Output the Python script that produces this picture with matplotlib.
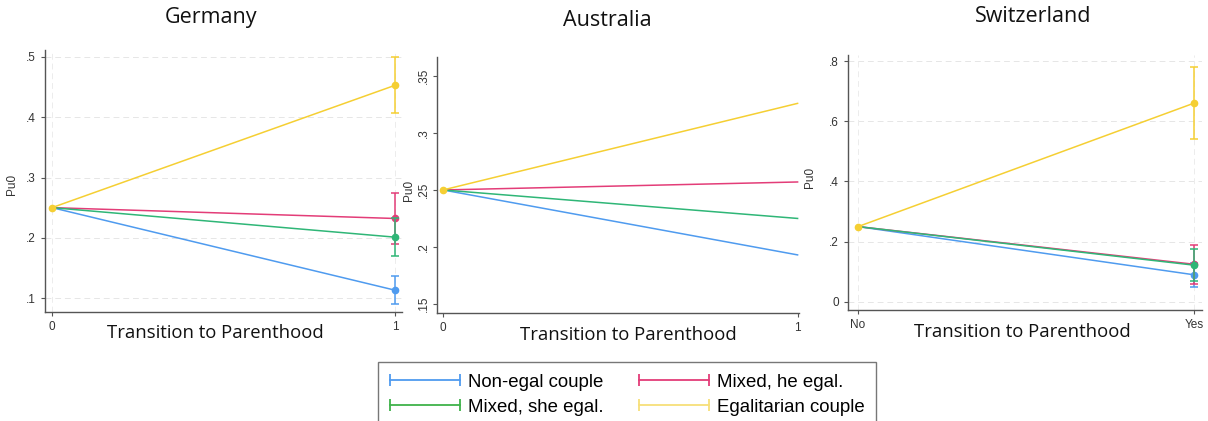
import matplotlib.pyplot as plt
from matplotlib.lines import Line2D
from matplotlib.legend_handler import HandlerLine2D

W, H = 1208, 421

groups = ['Non-egal couple', 'Mixed, he egal.', 'Mixed, she egal.', 'Egalitarian couple']
colors = ['#4f9bef', '#e33d78', '#2fb677', '#f5cf33']
legend_colors = ['#4f9bef', '#e33d78', '#3fb24a', '#f7df7a']

base = 0.25

# Germany: predicted value at transition and 95% CI
de_val = [0.113, 0.232, 0.201, 0.453]
de_lo = [0.090, 0.190, 0.170, 0.407]
de_hi = [0.136, 0.275, 0.232, 0.500]

# Australia: predicted value only
au_val = [0.193, 0.257, 0.225, 0.326]

# Switzerland
ch_val = [0.090, 0.125, 0.122, 0.660]
ch_lo = [0.050, 0.060, 0.070, 0.540]
ch_hi = [0.130, 0.190, 0.175, 0.780]

plt.rcParams['font.family'] = ['Liberation Sans', 'DejaVu Sans']
fig = plt.figure(figsize=(W / 100, H / 100), dpi=100)


def px_axes(l, r, t, b):
    return fig.add_axes([l / W, 1 - b / H, (r - l) / W, (b - t) / H])


def style(ax):
    for s in ['top', 'right']:
        ax.spines[s].set_visible(False)
    for s in ['left', 'bottom']:
        ax.spines[s].set_color('#555555')
        ax.spines[s].set_linewidth(1.0)
    ax.tick_params(colors='#555555', labelcolor='#333333', labelsize=8.5, length=3, width=0.8)


def fig_text(x, y, s, **kw):
    fig.text(x / W, 1 - y / H, s, ha='center', va='center', **kw)


def draw_panel(ax, vals, lo=None, hi=None, order=(0, 2, 1, 3)):
    for i in order:
        ax.plot([0, 1], [base, vals[i]], color=colors[i], lw=1.1, zorder=2 + i)
        if lo is not None:
            ax.errorbar([1], [vals[i]], yerr=[[vals[i] - lo[i]], [hi[i] - vals[i]]],
                        fmt='o', color=colors[i], ms=4.5, capsize=3, lw=1.1,
                        capthick=1.1, zorder=3 + i)
    ax.plot([0], [base], 'o', color=colors[3], ms=4.5, zorder=10)


def grid(ax, yticks, xticks=(0, 1)):
    for y in yticks:
        ax.axhline(y, color='#e6e6e6', lw=0.7, ls=(0, (6, 4)), zorder=0)
    for x in xticks:
        ax.axvline(x, color='#ececec', lw=0.7, ls=(0, (6, 4)), zorder=0)


# Germany
ax1 = px_axes(45, 402, 50, 312)
style(ax1)
ax1.set_xlim(-0.0204, 1.0204)
ax1.set_ylim(0.0768, 0.5116)
yt = [0.1, 0.2, 0.3, 0.4, 0.5]
ax1.set_yticks(yt)
ax1.set_yticklabels(['.1', '.2', '.3', '.4', '.5'])
ax1.set_xticks([0, 1])
ax1.set_xticklabels(['0', '1'])
grid(ax1, yt)
draw_panel(ax1, de_val, de_lo, de_hi)
ax1.set_ylabel('Pu0', fontsize=8.5, color='#333333')
ax1.yaxis.set_label_coords(-0.075, 0.485)

# Australia
ax2 = px_axes(437, 799, 57, 313)
style(ax2)
ax2.set_xlim(-0.017, 1.004)
ax2.set_ylim(0.142, 0.3667)
yt = [0.15, 0.2, 0.25, 0.3, 0.35]
ax2.set_yticks(yt)
ax2.set_yticklabels(['.15', '.2', '.25', '.3', '.35'], rotation=90, va='center')
ax2.tick_params(axis='y', pad=2)
ax2.set_xticks([0, 1])
ax2.set_xticklabels(['0', '1'])
draw_panel(ax2, au_val)
ax2.set_ylabel('Pu0', fontsize=8.5, color='#333333')
ax2.yaxis.set_label_coords(-0.062, 0.48)

# Switzerland
ax3 = px_axes(848, 1202, 55, 310)
style(ax3)
ax3.set_xlim(-0.03, 1.024)
ax3.set_ylim(-0.027, 0.82)
yt = [0, 0.2, 0.4, 0.6, 0.8]
ax3.set_yticks(yt)
ax3.set_yticklabels(['0', '.2', '.4', '.6', '.8'])
ax3.set_xticks([0, 1])
ax3.set_xticklabels(['No', 'Yes'])
grid(ax3, yt)
draw_panel(ax3, ch_val, ch_lo, ch_hi, order=(0, 1, 2, 3))
ax3.set_ylabel('Pu0', fontsize=8.5, color='#333333')
ax3.yaxis.set_label_coords(-0.09, 0.52)

# titles and x axis titles
title_kw = dict(fontsize=15.5, family=['Open Sans', 'DejaVu Sans'], color='#111111',
                fontweight='medium')
fig_text(211, 18, 'Germany', **title_kw)
fig_text(607, 21, 'Australia', **title_kw)
fig_text(1033, 17, 'Switzerland', **title_kw)
xl_kw = dict(fontsize=13.3, family=['Open Sans', 'DejaVu Sans'], color='#111111')
fig_text(215, 333, 'Transition to Parenthood', **xl_kw)
fig_text(628, 335, 'Transition to Parenthood', **xl_kw)
fig_text(1022, 332, 'Transition to Parenthood', **xl_kw)

# shared legend, caps at both ends of each key line
order = [0, 2, 1, 3]
handles = [Line2D([0, 1], [0, 0], color=legend_colors[i], lw=1.3, marker='|',
                  ms=9, mew=1.3) for i in order]
labels = [groups[i] for i in order]
leg = fig.legend(handles, labels, ncol=2, loc='upper left',
                 bbox_to_anchor=(378 / W, 1 - 362 / H), numpoints=2,
                 handler_map={Line2D: HandlerLine2D(marker_pad=0)},
                 fontsize=13.4, frameon=True, fancybox=False, handlelength=3.76,
                 handletextpad=0.45, columnspacing=1.9, borderpad=0.62,
                 labelspacing=0.45, borderaxespad=0)
leg.get_frame().set_edgecolor('#555555')
leg.get_frame().set_linewidth(1.0)

fig.savefig('out.png', dpi=100)
